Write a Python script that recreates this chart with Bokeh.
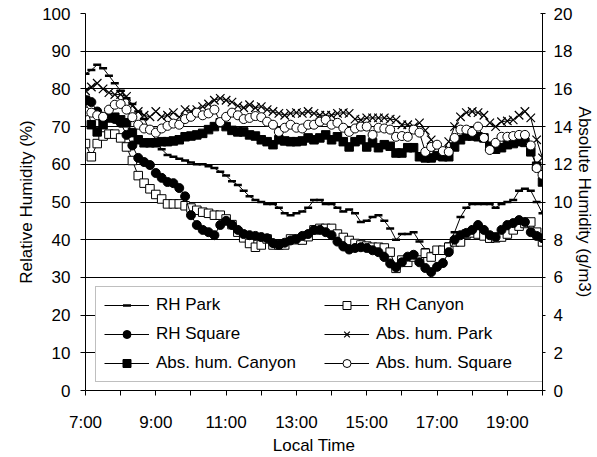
from bokeh.plotting import figure
from bokeh.models import Range1d, LinearAxis, FixedTicker, Legend, LegendItem
from bokeh.embed import file_html
from bokeh.resources import INLINE

# time of day in hours, one reading every 10 minutes from 7:00 to 20:00
hours = [7 + i / 6 for i in range(79)]

rh_park = [84, 85, 86.4, 85.5, 83.5, 81.5, 79.5, 77.5, 76, 74,
           72, 69, 66.5, 64, 62.5, 62, 61.5, 61, 60.5, 60,
           60, 59.5, 59, 58, 57, 55.5, 54.5, 53, 51.5, 50.5,
           50, 49.5, 49.5, 48.5, 47, 46.5, 47, 47.5, 48.5, 50.5,
           50.5, 49.5, 49.5, 48.5, 47.5, 48, 47, 44.7, 45, 46,
           46.5, 45, 43, 40, 41.5, 41.5, 42, 39.5, 37.5, 36.5,
           36.5, 37, 39, 42, 46, 48.5, 49.5, 49.5, 49.5, 49.5,
           48.5, 49.5, 50, 50.5, 53, 53.5, 53, 50, 47]

rh_canyon = [65.5, 62, 65.5, 67.5, 68, 68, 67, 64.6, 61, 57,
             55, 53.5, 52, 50.8, 49.5, 49.5, 49.5, 49, 48.4, 47.8,
             47.3, 47, 46.5, 46.5, 45.5, 44, 42, 40.5, 39, 38,
             38.6, 40.2, 38.6, 38.6, 38.6, 40.2, 40, 39.9, 40.8, 42.6,
             43, 43, 43, 41.5, 40.6, 39.8, 39, 38.6, 38.3, 38,
             38, 37.8, 36.7, 32.4, 34.6, 34, 35.4, 34.6, 36.4, 35.4,
             37.2, 37.2, 38, 39.4, 39.4, 41.5, 41.8, 41.5, 41, 40.4,
             40.5, 40.7, 41.5, 42.6, 43.6, 44.3, 44.7, 42, 39.4]

rh_square = [77, 76.5, 74, 72, 72.5, 72, 71, 67.8, 65, 61.7,
             60.6, 59.8, 57.7, 56.4, 55.3, 55, 53.7, 51.5, 46.5, 43.9,
             42.6, 42, 41.2, 43.9, 45, 43.9, 42.6, 41.5, 41.2, 41,
             40.7, 40.4, 39.1, 38.6, 39.2, 39.8, 40.2, 41, 41.5, 42.6,
             42.6, 42, 41.2, 39.5, 38.2, 37.4, 37.8, 38, 37.8, 37.2,
             36.7, 35.4, 33.7, 32.7, 34, 35.5, 36, 34, 32.5, 31.4,
             32.8, 33.8, 36.7, 40, 41.2, 41.8, 42.6, 43.9, 42.6, 41.2,
             40.7, 42.6, 43.9, 44.4, 45.2, 44.7, 42, 41, 40.4]

abs_park = [15.9, 16.1, 16.3, 16.0, 15.8, 15.7, 15.7, 15.6, 15.1, 14.8,
            14.6, 14.52, 14.8, 14.52, 14.6, 14.74, 14.5, 14.9, 14.8, 14.9,
            15.06, 15.2, 15.4, 15.5, 15.4, 15.3, 15.1, 15.0, 15.16, 15.0,
            15.06, 14.9, 14.8, 14.7, 14.6, 14.7, 14.74, 14.7, 14.8, 14.7,
            14.6, 14.6, 14.6, 14.7, 14.74, 14.7, 14.4, 14.36, 14.46, 14.46,
            14.46, 14.46, 14.4, 14.36, 14.1, 14.1, 14.0, 14.2, 13.8, 13.3,
            12.9, 12.76, 13.2, 14.0, 14.52, 14.74, 14.8, 14.74, 14.6, 14.2,
            14.0, 14.26, 14.3, 14.36, 14.6, 14.8, 14.46, 13.3, 12.34]

abs_canyon = [15.4, 14.1, 13.72, 14.1, 14.46, 14.5, 14.36, 14.2, 13.68, 13.3,
              13.14, 13.14, 13.14, 13.2, 13.2, 13.24, 13.3, 13.46, 13.5, 13.56,
              13.64, 13.84, 14.0, 14.2, 14.0, 13.8, 13.72, 13.72, 13.56, 13.5,
              13.3, 13.2, 13.04, 13.3, 13.24, 13.2, 13.2, 13.24, 13.4, 13.3,
              13.4, 13.56, 13.3, 13.46, 13.2, 12.92, 13.2, 13.3, 12.92, 13.14,
              12.88, 13.04, 12.96, 12.6, 12.6, 12.88, 12.88, 12.4, 12.34, 12.34,
              12.46, 12.4, 12.4, 12.92, 13.3, 13.5, 13.5, 13.46, 13.4, 12.96,
              12.8, 12.88, 13.04, 13.1, 13.2, 13.16, 12.66, 11.9, 11.06]

abs_square = [14.8, 14.74, 14.6, 14.52, 14.9, 15.16, 15.2, 14.9, 14.5, 14.1,
              13.9, 13.84, 13.68, 13.9, 14.04, 14.16, 14.1, 14.4, 14.52, 14.74,
              14.6, 14.7, 14.9, 14.24, 14.52, 14.74, 14.6, 14.4, 14.46, 14.56,
              14.5, 14.26, 14.1, 13.72, 13.94, 14.1, 13.94, 13.9, 14.1, 14.1,
              14.26, 14.36, 14.1, 14.2, 13.94, 13.72, 13.9, 14.0, 14.0, 13.56,
              13.94, 13.9, 13.84, 13.46, 13.5, 13.46, 13.84, 13.68, 12.66, 12.92,
              13.04, 12.7, 12.66, 13.4, 13.84, 13.84, 13.72, 14.0, 13.4, 12.76,
              13.14, 13.46, 13.46, 13.5, 13.56, 13.56, 13.0, 11.8, 11.44]

x_ticks = list(range(7, 21))
x_labels = {h: (f"{h}:00" if h % 2 == 1 and h < 20 else "") for h in x_ticks}
left_ticks = list(range(0, 101, 10))
right_ticks = list(range(0, 21, 2))

FONT = "Liberation Sans"
FS = "17px"

p = figure(width=597, height=457, x_range=Range1d(7, 20), y_range=Range1d(0, 100),
           output_backend="svg", toolbar_location=None,
           min_border_left=85, min_border_right=54, min_border_top=13, min_border_bottom=67)
p.extra_y_ranges = {"abs": Range1d(0, 20)}
p.outline_line_color = None
p.background_fill_color = "white"
p.border_fill_color = "white"
p.xgrid.visible = False
p.ygrid.ticker = FixedTicker(ticks=left_ticks)
p.ygrid.grid_line_color = "black"
p.ygrid.grid_line_width = 1

xa = p.xaxis[0]
xa.ticker = FixedTicker(ticks=x_ticks)
xa.major_label_overrides = x_labels
xa.axis_label = "Local Time"
ya = p.yaxis[0]
ya.ticker = FixedTicker(ticks=left_ticks)
ya.axis_label = "Relative Humidity (%)"

ra = LinearAxis(y_range_name="abs", ticker=FixedTicker(ticks=right_ticks),
                axis_label="Absolute Humidity (g/m3)")
p.add_layout(ra, "right")

for ax in (xa, ya, ra):
    ax.axis_line_color = "black"
    ax.axis_line_width = 1
    ax.major_tick_line_color = "black"
    ax.minor_tick_line_color = None
    ax.major_label_text_font = FONT
    ax.major_label_text_font_size = FS
    ax.major_label_text_color = "black"
    ax.axis_label_text_font = FONT
    ax.axis_label_text_font_size = FS
    ax.axis_label_text_font_style = "normal"
    ax.axis_label_text_color = "black"

xa.major_tick_in = 0
xa.major_tick_out = 5
xa.major_label_standoff = 17
xa.axis_label_standoff = 1
ya.major_tick_in = 0
ya.major_tick_out = 5
ya.major_label_standoff = 10
ya.axis_label_standoff = 3
ra.major_tick_in = 2
ra.major_tick_out = 3
ra.major_label_standoff = 8
ra.axis_label_standoff = 0

items = {}

def series(label, ys, marker, fill, size, mlw, rng=None):
    kw = {} if rng is None else {"y_range_name": rng}
    ln = p.line(hours, ys, line_color="black", line_width=1, **kw)
    sc = p.scatter(hours, ys, marker=marker, size=size, line_color="black",
                   fill_color=fill, line_width=mlw, **kw)
    items[label] = LegendItem(label=label, renderers=[ln, sc])

series("RH Park", rh_park, "dash", "black", 8, 2.5)
series("RH Canyon", rh_canyon, "square", "white", 8.5, 1)
series("RH Square", rh_square, "circle", "black", 9, 1)
series("Abs. hum. Park", abs_park, "x", None, 12, 1.2, "abs")
series("Abs. hum. Canyon", abs_canyon, "square", "black", 8.5, 1, "abs")
series("Abs. hum. Square", abs_square, "circle", "white", 9, 1, "abs")

# legend fills column by column: left column first, then right column
legend_order = ["RH Park", "RH Square", "Abs. hum. Canyon",
                "RH Canyon", "Abs. hum. Park", "Abs. hum. Square"]

legend = Legend(items=[items[k] for k in legend_order], ncols=2, location=(10, 8),
                border_line_color="#808080", border_line_width=1.5,
                background_fill_color="white", background_fill_alpha=1,
                padding=8, spacing=9, margin=0,
                glyph_width=45, glyph_height=20, label_height=20,
                label_width=159, label_standoff=7,
                label_text_font=FONT, label_text_font_size=FS,
                label_text_color="black")
p.add_layout(legend)

open("out.html", "w").write(file_html(p, INLINE))
